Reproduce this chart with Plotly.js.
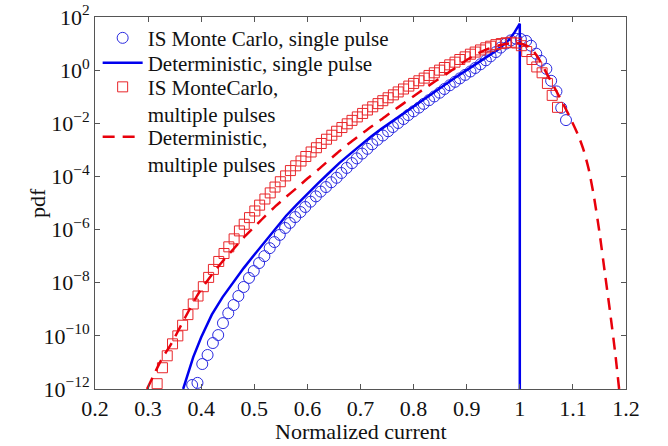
<!DOCTYPE html>
<html>
<head>
<meta charset="utf-8">
<script src="https://cdn.plot.ly/plotly-3.0.1.min.js"></script>
<style>html,body{margin:0;padding:0;background:#fff;}</style>
</head>
<body>
<div id="chart" style="width:668px;height:446px;"></div>
<script>
// IS Monte Carlo, single pulse (x, log10 pdf)
const mcSingleX = [0.383,0.393,0.402,0.412,0.422,0.432,0.441,0.451,0.461,0.470,0.480,0.490,0.499,0.509,0.519,0.529,0.538,0.548,0.558,0.567,0.577,0.587,0.596,0.606,0.616,0.625,0.635,0.645,0.655,0.664,0.674,0.684,0.693,0.703,0.713,0.722,0.732,0.742,0.752,0.761,0.771,0.781,0.790,0.800,0.810,0.819,0.829,0.839,0.849,0.858,0.868,0.878,0.887,0.897,0.907,0.916,0.926,0.936,0.945,0.955,0.964,0.974,0.983,0.993,1.002,1.012,1.021,1.031,1.040,1.050,1.059,1.069,1.078,1.087];
const mcSingleLog = [-11.85,-11.77,-11.06,-10.72,-10.27,-9.97,-9.52,-9.15,-8.84,-8.5,-8.16,-7.82,-7.56,-7.26,-7.0,-6.7,-6.47,-6.2,-5.94,-5.75,-5.53,-5.34,-5.15,-4.95,-4.75,-4.57,-4.4,-4.22,-4.05,-3.87,-3.68,-3.5,-3.32,-3.14,-2.96,-2.79,-2.62,-2.46,-2.3,-2.14,-1.99,-1.84,-1.69,-1.55,-1.41,-1.27,-1.13,-0.99,-0.85,-0.71,-0.57,-0.44,-0.31,-0.18,-0.05,0.08,0.22,0.37,0.52,0.68,0.85,1.0,1.12,1.18,1.17,1.1,0.92,0.62,0.35,0.05,-0.4,-0.8,-1.42,-1.88];

// Deterministic, single pulse
const detSingleX = [0.366,0.375,0.385,0.40,0.42,0.44,0.46,0.48,0.50,0.52,0.54,0.56,0.58,0.60,0.62,0.64,0.66,0.68,0.70,0.72,0.74,0.76,0.78,0.80,0.82,0.84,0.86,0.88,0.90,0.92,0.94,0.96,0.98,0.99,1.0,1.0];
const detSingleLog = [-12,-11.4,-10.8,-10.05,-9.2,-8.55,-8.0,-7.45,-6.95,-6.45,-5.95,-5.48,-5.06,-4.65,-4.26,-3.88,-3.5,-3.16,-2.82,-2.5,-2.2,-1.92,-1.64,-1.36,-1.08,-0.8,-0.53,-0.26,0.0,0.26,0.52,0.79,1.15,1.42,1.75,-12.5];

// IS MonteCarlo, multiple pulses
const mcMultiX = [0.317,0.327,0.336,0.346,0.356,0.365,0.375,0.385,0.394,0.404,0.414,0.423,0.433,0.443,0.452,0.462,0.472,0.481,0.491,0.501,0.510,0.520,0.530,0.539,0.549,0.559,0.568,0.578,0.588,0.597,0.607,0.617,0.626,0.636,0.646,0.655,0.665,0.675,0.684,0.694,0.704,0.713,0.723,0.733,0.742,0.752,0.762,0.771,0.781,0.791,0.800,0.810,0.820,0.829,0.839,0.849,0.858,0.868,0.878,0.887,0.897,0.907,0.916,0.926,0.936,0.945,0.955,0.965,0.974,0.984,0.994,1.003,1.013,1.023,1.032,1.042,1.052,1.061,1.071];
const mcMultiLog = [-11.8,-11.2,-10.75,-10.3,-10.0,-9.6,-9.2,-8.8,-8.5,-8.15,-7.8,-7.5,-7.2,-6.9,-6.65,-6.35,-6.05,-5.8,-5.55,-5.3,-5.08,-4.85,-4.62,-4.4,-4.2,-3.98,-3.78,-3.6,-3.42,-3.25,-3.08,-2.92,-2.76,-2.6,-2.45,-2.3,-2.16,-2.02,-1.89,-1.76,-1.63,-1.5,-1.38,-1.26,-1.15,-1.04,-0.93,-0.82,-0.71,-0.6,-0.5,-0.4,-0.3,-0.2,-0.1,0.0,0.1,0.2,0.3,0.4,0.5,0.6,0.68,0.76,0.84,0.9,0.96,1.0,1.03,1.05,1.02,0.92,0.7,0.4,0.12,-0.1,-0.5,-0.95,-1.4];

// Deterministic, multiple pulses
const detMultiX = [0.298,0.31,0.325,0.345,0.37,0.395,0.42,0.44,0.46,0.48,0.50,0.52,0.54,0.56,0.58,0.60,0.62,0.64,0.66,0.68,0.70,0.72,0.74,0.76,0.78,0.80,0.82,0.84,0.86,0.88,0.90,0.92,0.94,0.96,0.98,1.0,1.02,1.035,1.05,1.065,1.08,1.095,1.11,1.12,1.13,1.14,1.15,1.16,1.17,1.18,1.187];
const detMultiLog = [-12,-11.5,-10.9,-10.25,-9.3,-8.4,-7.7,-7.2,-6.75,-6.3,-5.9,-5.5,-5.12,-4.77,-4.43,-4.08,-3.75,-3.4,-3.05,-2.73,-2.43,-2.13,-1.85,-1.55,-1.27,-0.98,-0.7,-0.43,-0.17,0.1,0.38,0.62,0.8,0.93,1.0,1.0,0.85,0.45,-0.1,-0.65,-1.2,-1.8,-2.45,-3.0,-3.75,-4.8,-6.1,-7.6,-9.1,-10.7,-12];

const xTicks = [0.2,0.3,0.4,0.5,0.6,0.7,0.8,0.9,1,1.1,1.2];
const xTickText = ['0.2','0.3','0.4','0.5','0.6','0.7','0.8','0.9','1','1.1','1.2'];
const yTickExp = [2,0,-2,-4,-6,-8,-10,-12];
const yTickText = ['10<sup>2</sup>','10<sup>0</sup>','10<sup>\u22122</sup>','10<sup>\u22124</sup>','10<sup>\u22126</sup>','10<sup>\u22128</sup>','10<sup>\u221210</sup>','10<sup>\u221212</sup>'];

const pow10 = a => a.map(v => Math.pow(10, v));
const FONT = 'Liberation Serif, Times New Roman, serif';
const TXT = '#111';

const traces = [
  {x: mcSingleX, y: pow10(mcSingleLog), mode: 'markers', type: 'scatter',
   name: 'IS Monte Carlo, single pulse', legend: 'legend',
   marker: {symbol: 'circle-open', size: 11, color: '#2a2ae0', line: {width: 1, color: '#2a2ae0'}}},
  {x: detSingleX, y: pow10(detSingleLog), mode: 'lines', type: 'scatter',
   name: 'Deterministic, single pulse', legend: 'legend2',
   line: {color: '#0000ee', width: 2.5}},
  {x: mcMultiX, y: pow10(mcMultiLog), mode: 'markers', type: 'scatter',
   name: 'IS MonteCarlo,<br>multiple pulses', legend: 'legend3',
   marker: {symbol: 'square-open', size: 10, color: '#e8262a', line: {width: 1, color: '#e8262a'}}},
  {x: detMultiX, y: pow10(detMultiLog), mode: 'lines', type: 'scatter',
   name: 'Deterministic,<br>multiple pulses', legend: 'legend4',
   line: {color: '#e8000b', width: 2.5, dash: '12px,8px', shape: 'spline', smoothing: 0.6}}
];

const axisCommon = {
  showline: true, mirror: 'ticks', linecolor: '#555', linewidth: 1,
  ticks: 'inside', ticklen: 5, tickcolor: '#555', showgrid: false, zeroline: false,
  tickfont: {family: FONT, size: 22, color: TXT}, ticklabeloverflow: 'allow'
};

const legendBase = {x: 0.005, xanchor: 'left', yanchor: 'middle', bgcolor: 'rgba(0,0,0,0)',
  font: {family: FONT, size: 21, color: TXT}, itemwidth: 40, tracegroupgap: 0, valign: 'top'};

const layout = {
  width: 668, height: 446,
  margin: {l: 95, r: 42, t: 17, b: 57},
  paper_bgcolor: '#fff', plot_bgcolor: '#fff',
  font: {family: FONT, color: TXT},
  showlegend: true,
  legend: Object.assign({}, legendBase, {y: 0.943}),
  legend2: Object.assign({}, legendBase, {y: 0.876}),
  legend3: Object.assign({}, legendBase, {y: 0.775}),
  legend4: Object.assign({}, legendBase, {y: 0.641}),
  xaxis: Object.assign({}, axisCommon, {
    range: [0.2, 1.2], tickvals: xTicks, ticktext: xTickText
  }),
  yaxis: Object.assign({}, axisCommon, {
    type: 'log', range: [-12, 2], tickvals: pow10(yTickExp), ticktext: yTickText
  }),
  annotations: [
    {text: 'Normalized current', xref: 'paper', yref: 'paper', x: 0.5, y: -0.113,
     xanchor: 'center', yanchor: 'middle', showarrow: false, font: {family: FONT, size: 22, color: TXT}},
    {text: 'pdf', xref: 'paper', yref: 'paper', x: -0.109, y: 0.5, textangle: -90,
     xanchor: 'center', yanchor: 'middle', showarrow: false, font: {family: FONT, size: 22, color: TXT}}
  ]
};

Plotly.newPlot('chart', traces, layout, {staticPlot: true, displayModeBar: false});
</script>
</body>
</html>
